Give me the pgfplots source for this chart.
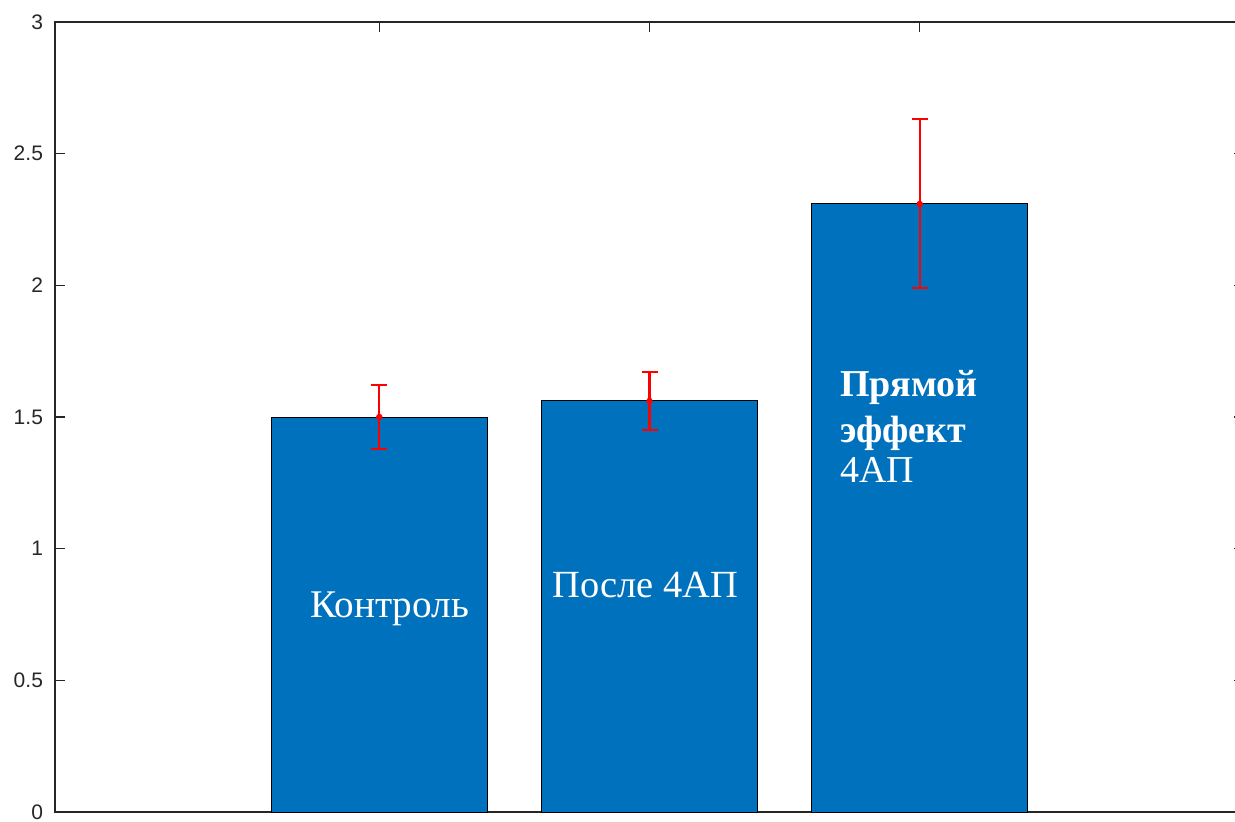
\documentclass[border=0pt]{standalone}
\usepackage{pgfplots}
\pgfplotsset{compat=1.18}
\usepackage{fontspec}
\setmainfont{Liberation Sans}
\newfontfamily\serifru{Liberation Serif}
\definecolor{mbar}{HTML}{0072BD}
\definecolor{axgray}{HTML}{262626}
\begin{document}
\begin{tikzpicture}
\begin{axis}[
  at={(0,0)}, anchor=south west,
  scale only axis,
  width=594.5pt, height=395pt,
  xmin=-0.2, xmax=4.2,
  ymin=0, ymax=3,
  ytick={0,0.5,1,1.5,2,2.5,3},
  xtick={1,2,3},
  xticklabels={},
  xtick align=inside, ytick align=inside,
  xtick pos=both, ytick pos=both,
  major tick length=5pt,
  axis line style={draw=axgray, line width=0.8pt},
  major tick style={draw=axgray, line width=0.7pt},
  /pgf/number format/assume math mode=true,
  yticklabel style={font=\fontsize{10.5}{12}\selectfont, text=axgray, xshift=-2.5pt},
  clip=false,
]
\addplot[ybar, bar width=0.8, fill=mbar, draw=black, line width=0.5pt]
  coordinates {(1,1.500) (2,1.561) (3,2.309)};
\addplot[only marks, mark=*, mark size=1.4pt, color=red, mark options={solid, fill=red, draw=red},
  forget plot,
  error bars/.cd, y dir=both, y explicit,
  error bar style={solid, color=red, line width=1.1pt},
  error mark options={solid, color=red, rotate=90, mark size=4pt, line width=1pt}]
  coordinates {(1,1.500) +- (0,0.121) (2,1.561) +- (0,0.109) (3,2.309) +- (0,0.321)};
\node[anchor=base west, text=white, inner sep=0pt, font=\serifru\fontsize{19.6}{21.5}\selectfont] at (axis cs:0.744,0.740) {Контроль};
\node[anchor=base west, text=white, inner sep=0pt, font=\serifru\fontsize{19.2}{21.5}\selectfont] at (axis cs:1.641,0.813) {После 4АП};
\node[anchor=base west, text=white, inner sep=0pt, font=\serifru\bfseries\fontsize{19}{21.5}\selectfont] at (axis cs:2.704,1.576) {Прямой};
\node[anchor=base west, text=white, inner sep=0pt, font=\serifru\bfseries\fontsize{19}{21.5}\selectfont] at (axis cs:2.704,1.405) {эффект};
\node[anchor=base west, text=white, inner sep=0pt, font=\serifru\fontsize{19}{21.5}\selectfont] at (axis cs:2.704,1.250) {4АП};
\end{axis}
\pgfresetboundingbox
\useasboundingbox (-27.5pt,-4.5pt) rectangle (590pt,406pt);
\end{tikzpicture}
\end{document}
